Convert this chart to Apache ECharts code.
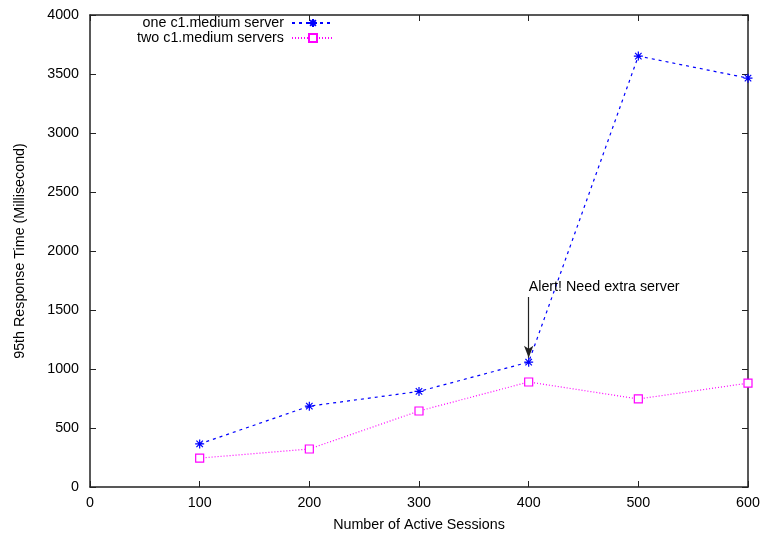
<!DOCTYPE html>
<html>
<head>
<meta charset="utf-8">
<script src="https://cdn.jsdelivr.net/npm/echarts@6/dist/echarts.min.js"></script>
<style>
  html, body { margin: 0; padding: 0; background: #fff; }
  #chart { width: 763px; height: 534px; }
</style>
</head>
<body>
<div id="chart"></div>
<script>
var sessions = [100, 200, 300, 400, 500, 600];
var oneServer = [365, 685, 810, 1058, 3652, 3465];
var twoServers = [245, 322, 644, 890, 746, 880];

var xTicks = { min: 0, max: 600, interval: 100 };
var yTicks = { min: 0, max: 4000, interval: 500 };

var alertText = "Alert! Need extra server";
var alertFrom = [400, 1610];
var alertTo = [400, 1095];

var FONT = "Liberation Sans";
var FS = 14.3;
var starPath = "path://M0,-5L0,5M-5,0L5,0M-3.6,-3.6L3.6,3.6M-3.6,3.6L3.6,-3.6";

function pairs(xs, ys) {
  let out = [];
  for (let i = 0; i < xs.length; i++) {
    out.push([xs[i], ys[i]]);
  }
  return out;
}

var dom = document.getElementById("chart");
var myChart = echarts.init(dom, null, { renderer: "canvas" });

var axisLine = { show: true, onZero: false, lineStyle: { color: "#222", width: 1.5 } };
var axisTick = { show: true, inside: true, length: 6, lineStyle: { color: "#222", width: 1 } };

function legendFor(name, top) {
  return {
    right: 428,
    top: top,
    align: "right",
    itemWidth: 42,
    itemHeight: 10,
    padding: 0,
    textStyle: { fontFamily: FONT, fontSize: FS, color: "#000", padding: [0, 3, 0, 0] },
    data: [name]
  };
}

var option = {
  animation: false,
  backgroundColor: "#fff",
  textStyle: { fontFamily: FONT },
  grid: { left: 90, right: 15, top: 15, bottom: 47, outerBoundsMode: "none", containLabel: false },
  legend: [
    legendFor("one c1.medium server", 16),
    legendFor("two c1.medium servers", 31)
  ],
  xAxis: [
    {
      type: "value",
      min: xTicks.min, max: xTicks.max, interval: xTicks.interval,
      name: "Number of Active Sessions",
      nameLocation: "middle",
      nameGap: 31,
      nameTextStyle: { fontFamily: FONT, fontSize: FS, color: "#000" },
      axisLine: axisLine,
      axisTick: axisTick,
      axisLabel: { fontFamily: FONT, fontSize: FS, color: "#000", margin: 9 },
      splitLine: { show: false }
    },
    {
      type: "value", position: "top",
      min: xTicks.min, max: xTicks.max, interval: xTicks.interval,
      axisLine: axisLine, axisTick: axisTick,
      axisLabel: { show: false }, splitLine: { show: false }
    }
  ],
  yAxis: [
    {
      type: "value",
      min: yTicks.min, max: yTicks.max, interval: yTicks.interval,
      name: "95th Response Time (Millisecond)",
      nameLocation: "middle",
      nameGap: 63,
      nameTextStyle: { fontFamily: FONT, fontSize: FS, color: "#000" },
      axisLine: axisLine,
      axisTick: axisTick,
      axisLabel: {
        fontFamily: FONT, fontSize: FS, color: "#000", margin: 11,
        formatter: function (v) { return String(v); }
      },
      splitLine: { show: false }
    },
    {
      type: "value", position: "right",
      min: yTicks.min, max: yTicks.max, interval: yTicks.interval,
      axisLine: axisLine, axisTick: axisTick,
      axisLabel: { show: false }, splitLine: { show: false }
    }
  ],
  series: [
    {
      name: "one c1.medium server",
      type: "line",
      data: pairs(sessions, oneServer),
      symbol: starPath,
      symbolSize: 9,
      showAllSymbol: true,
      color: "#0000ff",
      lineStyle: { color: "#0000ff", width: 1.2, type: [3, 4] },
      itemStyle: { color: "#0000ff", borderColor: "#0000ff", borderWidth: 1.2 },
      markLine: {
        silent: true,
        symbol: ["none", "arrow"],
        symbolSize: [7, 12],
        lineStyle: { color: "#222", width: 1.2, type: "solid" },
        label: {
          show: true,
          position: "start",
          formatter: alertText,
          fontFamily: FONT,
          fontSize: FS,
          color: "#000",
          align: "left",
          distance: [0, 3]
        },
        data: [[{ coord: alertFrom }, { coord: alertTo }]]
      }
    },
    {
      name: "two c1.medium servers",
      type: "line",
      data: pairs(sessions, twoServers),
      symbol: "rect",
      symbolSize: 8,
      showAllSymbol: true,
      color: "#ff00ff",
      lineStyle: { color: "#ff00ff", width: 1.2, type: [1, 2] },
      itemStyle: { color: "#fff", borderColor: "#ff00ff", borderWidth: 1.2 }
    }
  ]
};

myChart.setOption(option);
window.addEventListener("resize", myChart.resize);
</script>
</body>
</html>
